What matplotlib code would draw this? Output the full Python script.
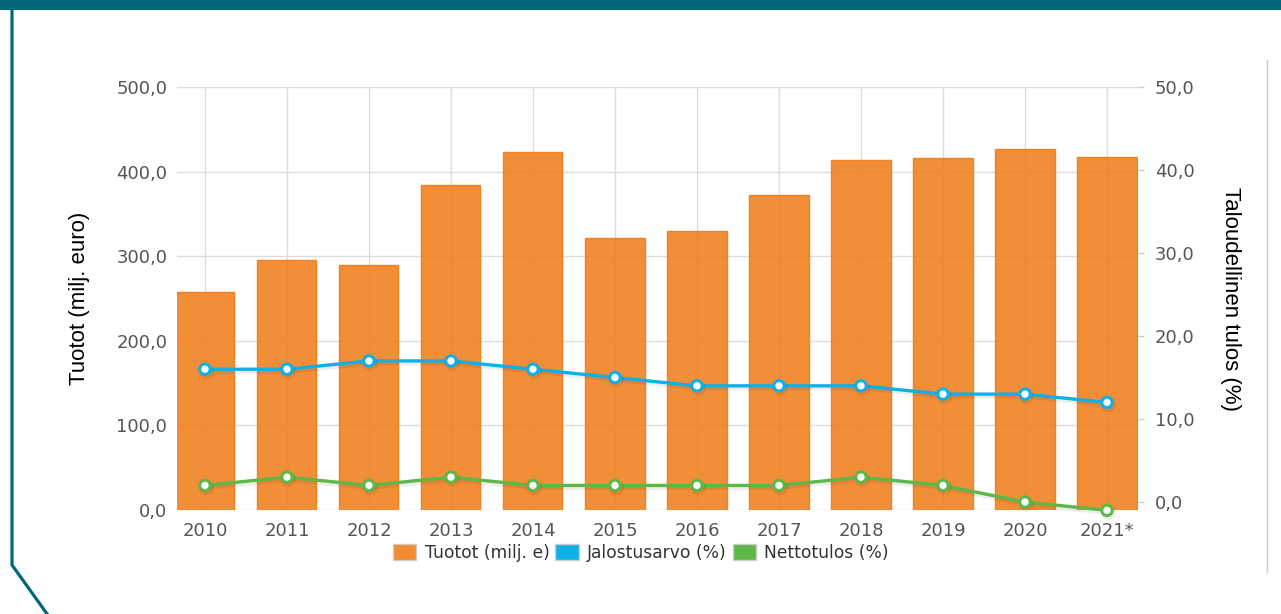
import matplotlib
matplotlib.use("Agg")
import matplotlib.pyplot as plt
import matplotlib.patheffects as pe
from matplotlib.lines import Line2D
from matplotlib.patches import Rectangle, Patch
import numpy as np

plt.rcParams["font.family"] = ["DejaVu Sans"]

# ---- data ----
years = ["2010", "2011", "2012", "2013", "2014", "2015", "2016", "2017", "2018", "2019", "2020", "2021*"]
tuotot = [258, 295, 290, 384, 423, 321, 330, 372, 414, 416, 427, 417]
jalostusarvo = [16, 16, 17, 17, 16, 15, 14, 14, 14, 13, 13, 12]
nettotulos = [2, 3, 2, 3, 2, 2, 2, 2, 3, 2, 0, -1]
left_ticks = [0, 100, 200, 300, 400, 500]
right_ticks = [0, 10, 20, 30, 40, 50]
legend_labels = ["Tuotot (milj. e)", "Jalostusarvo (%)", "Nettotulos (%)"]
left_title = "Tuotot (milj. euro)"
right_title = "Taloudellinen tulos (%)"

ORANGE = "#F27E1C"
BLUE = "#0FB0E8"
GREEN = "#5DB847"
TEAL = "#006978"
TICKC = "#555555"
GRID = "#dddddd"

W, H = 1281, 614
fig = plt.figure(figsize=(W / 100, H / 100), dpi=100)
fig.patch.set_facecolor("white")

# decorative frame
fig.patches.append(Rectangle((0, 1 - 10 / H), 1, 10 / H, transform=fig.transFigure,
                             facecolor=TEAL, edgecolor="none", zorder=0))
fig.lines.append(Line2D([12 / W, 12 / W, 50 / W], [1 - 10 / H, 1 - 565 / H, 1 - 618 / H],
                        transform=fig.transFigure, color=TEAL, lw=2.3))
fig.lines.append(Line2D([1267 / W, 1267 / W], [1 - 60 / H, 1 - 572 / H],
                        transform=fig.transFigure, color="#cccccc", lw=1))

# axes geometry
L, R, T, B = 177, 1138, 87, 510
ax = fig.add_axes([L / W, 1 - B / H, (R - L) / W, (B - T) / H])
ax2 = ax.twinx()

x = np.arange(len(years))
ax.set_xlim(-0.341, 11.378)
ax.set_ylim(0, 500)
ax2.set_ylim(-0.96, 50)

# gridlines
ax.set_axisbelow(True)
ax.grid(True, color=GRID, lw=1)
ax.set_yticks(left_ticks)
ax.set_yticklabels([f"{v:.1f}".replace(".", ",") for v in left_ticks])
ax.set_xticks(x)
ax.set_xticklabels(years)

ax.bar(x, tuotot, width=0.72, color=ORANGE, alpha=0.88, edgecolor="#F07810", linewidth=1, zorder=2)

shadow = [pe.SimpleLineShadow(offset=(1, -1.5), shadow_color="black", alpha=0.07, linewidth=3.5), pe.Normal()]
ax2.plot(x, jalostusarvo, color=BLUE, lw=2.4, marker="o", ms=7.5, mfc="white", mec=BLUE, mew=2.2,
         zorder=3, path_effects=shadow)
ax2.plot(x, nettotulos, color=GREEN, lw=2.4, marker="o", ms=7.5, mfc="white", mec=GREEN, mew=2.2,
         zorder=3, path_effects=shadow, clip_on=False)

ax2.set_yticks(right_ticks)
ax2.set_yticklabels([f"{v:.1f}".replace(".", ",") for v in right_ticks])

for a in (ax, ax2):
    for s in a.spines.values():
        s.set_visible(False)
ax2.patch.set_visible(False)

ax.tick_params(axis="x", length=0, pad=9, labelsize=13, labelcolor=TICKC)
ax.tick_params(axis="y", length=0, pad=7, labelsize=13, labelcolor=TICKC)
ax2.tick_params(axis="y", length=4, width=1, color="#cccccc", pad=8, labelsize=13, labelcolor=TICKC)

fig.text(80 / W, 1 - 298 / H, left_title, rotation=90, ha="center", va="center",
         fontsize=16, family="Liberation Sans", color="black")
fig.text(1230 / W, 1 - 299 / H, right_title, rotation=270, ha="center", va="center",
         fontsize=16, family="Liberation Sans", color="black")

handles = [Patch(facecolor=ORANGE, edgecolor="#cccccc", alpha=0.9),
           Patch(facecolor=BLUE, edgecolor="#cccccc"),
           Patch(facecolor=GREEN, edgecolor="#cccccc")]
leg = fig.legend(handles, legend_labels, loc="center", bbox_to_anchor=(641 / W, 1 - 553 / H),
                 ncol=3, frameon=False, fontsize=12.3, handlelength=1.35, handleheight=1.1,
                 handletextpad=0.5, columnspacing=0.35, borderpad=0)
for t in leg.get_texts():
    t.set_color("#333333")

fig.savefig("out.png", dpi=100, facecolor="white")
